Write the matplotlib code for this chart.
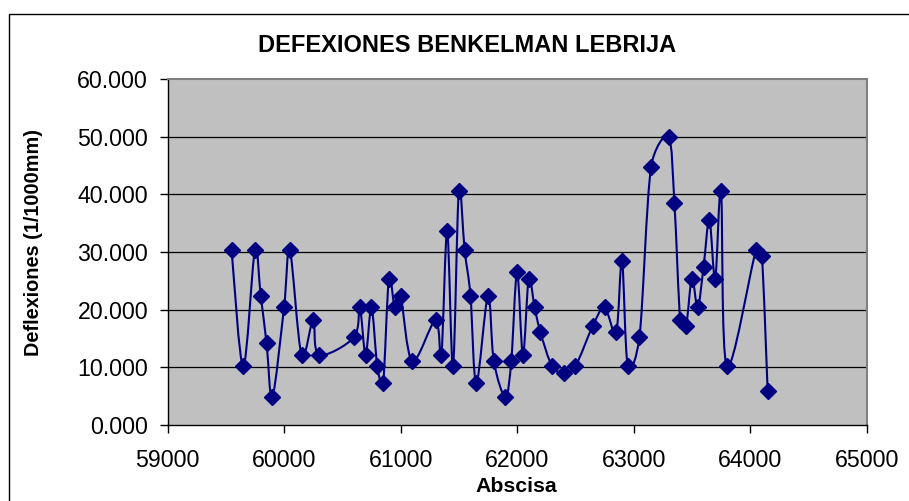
#!/usr/bin/env python3
# -*- coding: utf-8 -*-
"""
Deflexiones Benkelman - Lebrija
"""
#%%
import numpy
import matplotlib
matplotlib.use('Agg')
import matplotlib.pyplot as plt
from matplotlib.path import Path
from matplotlib.patches import PathPatch, Rectangle
from matplotlib.ticker import FormatStrFormatter

#%% Data
abscisa = [59550, 59650, 59750, 59800, 59850, 59900, 60000, 60050, 60150, 60250,
           60300, 60600, 60650, 60700, 60750, 60800, 60850, 60900, 60950, 61000,
           61100, 61300, 61350, 61400, 61450, 61500, 61550, 61600, 61650, 61750,
           61800, 61900, 61950, 62000, 62050, 62100, 62150, 62200, 62300, 62400,
           62500, 62650, 62750, 62850, 62900, 62950, 63050, 63150, 63300, 63350,
           63400, 63450, 63500, 63550, 63600, 63650, 63700, 63750, 63800, 64050,
           64100, 64150]

deflexion = [30.3, 10.2, 30.3, 22.4, 14.2, 4.9, 20.4, 30.3, 12.2, 18.2,
             12.2, 15.2, 20.4, 12.2, 20.4, 10.2, 7.2, 25.4, 20.4, 22.4,
             11.1, 18.2, 12.2, 33.6, 10.2, 40.6, 30.3, 22.4, 7.2, 22.4,
             11.1, 4.9, 11.1, 26.5, 12.2, 25.4, 20.4, 16.1, 10.2, 9.1,
             10.2, 17.2, 20.4, 16.1, 28.4, 10.2, 15.2, 44.8, 49.9, 38.5,
             18.2, 17.2, 25.4, 20.4, 27.4, 35.6, 25.4, 40.6, 10.2, 30.3,
             29.3, 5.9]

x_ticks = [59000, 60000, 61000, 62000, 63000, 64000, 65000]
y_ticks = [0, 10, 20, 30, 40, 50, 60]

#%% Smoothed line (excel style bezier, worked out in screen space)
def smooth_path(ax, x, y):
    trans = ax.transData
    pts = trans.transform(numpy.column_stack([x, y]).astype(float))
    n = len(pts)
    verts = [pts[0]]
    codes = [Path.MOVETO]
    for i in range(n - 1):
        p0 = pts[i - 1] if i > 0 else pts[i]
        p1 = pts[i]
        p2 = pts[i + 1]
        p3 = pts[i + 2] if i + 2 < n else pts[i + 1]
        d02 = numpy.hypot(*(p2 - p0))
        d12 = numpy.hypot(*(p2 - p1))
        d13 = numpy.hypot(*(p3 - p1))
        # control arm never longer than half the segment
        f1 = min(1 / 6.0, d12 / (2 * d02)) if d02 > 0 else 0
        f2 = min(1 / 6.0, d12 / (2 * d13)) if d13 > 0 else 0
        c1 = p1 + (p2 - p0) * f1
        c2 = p2 - (p3 - p1) * f2
        verts += [c1, c2, p2]
        codes += [Path.CURVE4] * 3
    verts = trans.inverted().transform(numpy.array(verts))
    return Path(verts, codes)

#%% Plot
plt.rcParams['font.family'] = ['Liberation Sans', 'DejaVu Sans']
navy = '#000080'

fig = plt.figure(figsize=(9.09, 5.01), dpi=100)
ax = fig.add_axes([167.5 / 909, 1 - 425 / 501, (866.7 - 167.5) / 909, (425 - 79) / 501])
ax.set_facecolor('#C0C0C0')
ax.set_xlim(59000, 65000)
ax.set_ylim(0, 60)

for yv in y_ticks[1:-1]:
    ax.axhline(yv, color='black', lw=0.9, zorder=1)

ax.add_patch(PathPatch(smooth_path(ax, abscisa, deflexion), fill=False,
                       edgecolor=navy, lw=1.5, zorder=2))
ax.plot(abscisa, deflexion, linestyle='none', marker='D', ms=8,
        color=navy, zorder=3)

ax.set_xticks(x_ticks)
ax.set_yticks(y_ticks)
ax.yaxis.set_major_formatter(FormatStrFormatter('%.3f'))
ax.tick_params(direction='out', length=5.5, width=1, labelsize=16.7)
ax.tick_params(axis='y', pad=8.5)
ax.tick_params(axis='x', pad=12)

for side in ['left', 'bottom']:
    ax.spines[side].set_color('black')
    ax.spines[side].set_linewidth(1)
for side in ['top', 'right']:
    ax.spines[side].set_color('#808080')
    ax.spines[side].set_linewidth(1.5)

fig.text(467.5 / 909, 1 - 46 / 501, 'DEFEXIONES BENKELMAN LEBRIJA',
         ha='center', va='center', fontsize=17, fontweight='bold')
fig.text(516 / 909, 1 - 486 / 501, 'Abscisa',
         ha='center', va='center', fontsize=15.3, fontweight='bold')
fig.text(34 / 909, 1 - 243 / 501, 'Deflexiones (1/1000mm)',
         ha='center', va='center', rotation=90, fontsize=14.3, fontweight='bold')

# chart area border
fig.patches.append(Rectangle((9 / 909, -0.1), 1.0, 1 - 14 / 501 + 0.1, fill=False,
                             edgecolor='black', lw=1, transform=fig.transFigure))

fig.savefig('out.png', dpi=100)
#%%
